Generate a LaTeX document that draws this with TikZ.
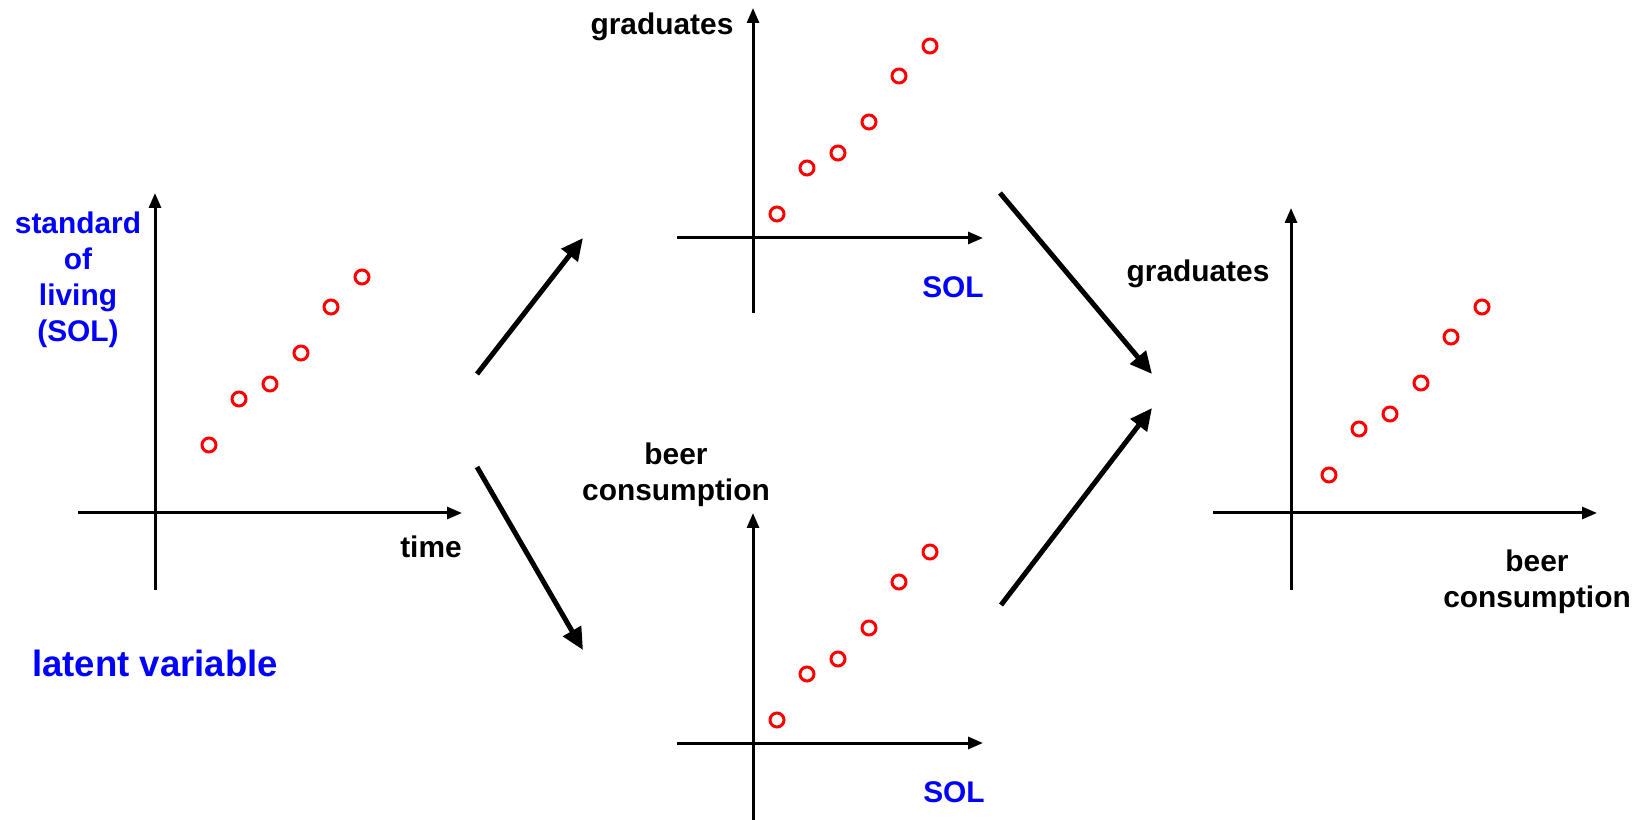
\documentclass[tikz,border=0pt]{standalone}
\usepackage{fontspec}
\setmainfont{Liberation Sans}
\usetikzlibrary{arrows.meta}

\begin{document}
\begin{tikzpicture}[x=0.1mm,y=-0.1mm,
  axis/.style={line width=0.3mm,-{Triangle[length=1.5mm,width=1.2mm]}},
  link/.style={line width=0.5mm,-{Triangle[length=2.2mm,width=2mm]}},
  obs/.style={circle,draw=red,line width=0.3mm,minimum size=1.4mm,inner sep=0pt},
  lab/.style={font=\fontsize{8.5}{10.2}\selectfont\bfseries,align=center,inner sep=0pt},
  sol/.style={lab,text=blue}]
\useasboundingbox (0,0) rectangle (1644,820);

% latent variable: SOL over time
\coordinate (lx0) at (78,513);  \coordinate (lx1) at (462,513);
\coordinate (ly0) at (155,590); \coordinate (ly1) at (155,193);
\draw[axis] (lx0) -- (lx1);
\draw[axis] (ly0) -- (ly1);
\foreach \dx/\dy [count=\i] in {0/0,30/-46,61/-61,92/-92,122/-138,153/-168}
  \node[obs] (l\i) at (209+\dx,445+\dy) {};
\node[lab] (ltime) at (431,547) {time};
\node[sol] (lsol) at (78,280) {standard\\of\\living\\(SOL)};
\node[sol,font=\fontsize{10.4}{12.5}\selectfont\bfseries] (latent) at (155,663) {latent variable};

% graduates vs SOL
\coordinate (gx0) at (677,238); \coordinate (gx1) at (983,238);
\coordinate (gy0) at (753,313); \coordinate (gy1) at (753,8);
\draw[axis] (gx0) -- (gx1);
\draw[axis] (gy0) -- (gy1);
\foreach \dx/\dy [count=\i] in {0/0,30/-46,61/-61,92/-92,122/-138,153/-168}
  \node[obs] (g\i) at (777+\dx,214+\dy) {};
\node[lab] (ggrad) at (662,27) {graduates};
\node[sol] (gsol) at (953,287) {SOL};

% beer consumption vs SOL
\coordinate (bx0) at (677,743); \coordinate (bx1) at (983,743);
\coordinate (by0) at (753,820); \coordinate (by1) at (753,513);
\draw[axis] (bx0) -- (bx1);
\draw[axis] (by0) -- (by1);
\foreach \dx/\dy [count=\i] in {0/0,30/-46,61/-61,92/-92,122/-138,153/-168}
  \node[obs] (b\i) at (777+\dx,720+\dy) {};
\node[lab] (bbeer) at (676,475) {beer\\consumption};
\node[sol] (bsol) at (954,792) {SOL};

% graduates vs beer consumption
\coordinate (rx0) at (1213,513); \coordinate (rx1) at (1597,513);
\coordinate (ry0) at (1291,590); \coordinate (ry1) at (1291,208);
\draw[axis] (rx0) -- (rx1);
\draw[axis] (ry0) -- (ry1);
\foreach \dx/\dy [count=\i] in {0/0,30/-46,61/-61,92/-92,122/-138,153/-168}
  \node[obs] (r\i) at (1329+\dx,475+\dy) {};
\node[lab] (rgrad) at (1198,274) {graduates};
\node[lab] (rbeer) at (1537,582) {beer\\consumption};

% big arrows
\coordinate (a1s) at (477,374);  \coordinate (a1e) at (583,238);
\coordinate (a2s) at (477,467);  \coordinate (a2e) at (583,650);
\coordinate (a3s) at (1000,193); \coordinate (a3e) at (1152,374);
\coordinate (a4s) at (1001,605); \coordinate (a4e) at (1152,408);
\draw[link] (a1s) -- (a1e);
\draw[link] (a2s) -- (a2e);
\draw[link] (a3s) -- (a3e);
\draw[link] (a4s) -- (a4e);
\end{tikzpicture}
\end{document}
